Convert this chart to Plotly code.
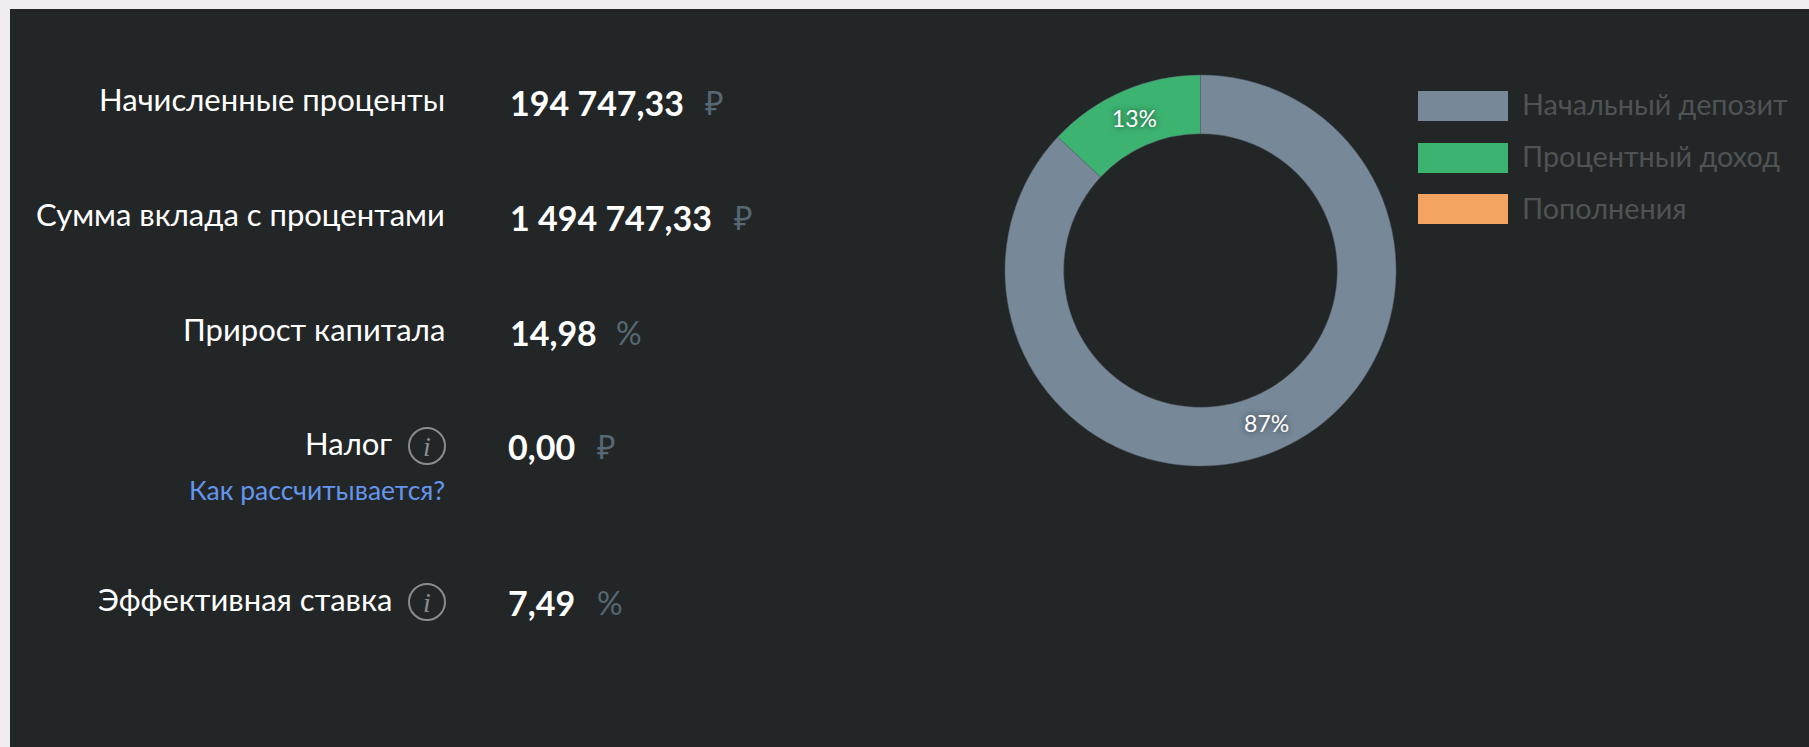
import plotly.graph_objects as go

# ---- data ----
categories = ["Начальный депозит", "Процентный доход", "Пополнения"]
amounts = [1300000.00, 194747.33, 0.00]
slice_colors = ["#778899", "#3CB371", "#F4A460"]

row_labels = ["Начисленные проценты", "Сумма вклада с процентами", "Прирост капитала", "Налог", "Эффективная ставка"]
row_values = ["194 747,33", "1 494 747,33", "14,98", "0,00", "7,49"]
row_units = ["₽", "₽", "%", "₽", "%"]
tax_link = "Как рассчитывается?"

# ---- layout constants (pixels) ----
W, H = 1809, 747
PANEL = "#232627"
PAGE = "#F0ECF2"
FONT = "Lato, 'Noto Sans', sans-serif"
label_right = [447, 447, 447, 394, 394]
label_y = [99, 214, 329, 443, 599]
value_left = [508, 508, 508, 506, 506]
value_y = [102, 217, 332, 446, 602]
unit_left = [703, 732, 614, 595, 595]
icon_rows = [3, 4]
icon_x = 427
icon_r = 18
legend_x0, legend_x1 = 1418, 1508
legend_y = [106, 158, 209]
legend_h = 30
legend_text_x = 1520
donut = dict(left=1005, right=1396, top=75, bottom=466)


def px(x):
    return x / W


def py(y):
    return 1 - y / H


def note(x, y, text, size, color, anchor="left", family=FONT):
    return dict(x=px(x), y=py(y), xref="paper", yref="paper", text=text, showarrow=False,
                xanchor=anchor, yanchor="middle", align=anchor,
                font=dict(size=size, color=color, family=family))


annotations = []
shapes = [dict(type="rect", xref="paper", yref="paper", x0=px(10), x1=1, y0=0, y1=py(9),
               fillcolor=PANEL, line=dict(width=0), layer="below")]

for i, label in enumerate(row_labels):
    annotations.append(note(label_right[i], label_y[i], label, 31, "#FFFFFF", "right"))
    annotations.append(note(value_left[i], value_y[i], f"<b>{row_values[i]}</b>", 34, "#FFFFFF"))
    annotations.append(note(unit_left[i], value_y[i], row_units[i], 32, "#566873"))

annotations.append(note(447, 490, tax_link, 26.5, "#6495ED", "right"))

for r in icon_rows:
    y = label_y[r] + 3
    shapes.append(dict(type="circle", xref="paper", yref="paper",
                       x0=px(icon_x - icon_r), x1=px(icon_x + icon_r),
                       y0=py(y + icon_r), y1=py(y - icon_r),
                       line=dict(color="#8A8D8E", width=2), fillcolor="rgba(0,0,0,0)"))
    annotations.append(note(icon_x, y, "<i>i</i>", 28, "#8A8D8E", "center", "'Liberation Serif', serif"))

for i, cat in enumerate(categories):
    shapes.append(dict(type="rect", xref="paper", yref="paper",
                       x0=px(legend_x0), x1=px(legend_x1),
                       y0=py(legend_y[i] + legend_h / 2), y1=py(legend_y[i] - legend_h / 2),
                       fillcolor=slice_colors[i], line=dict(width=0)))
    annotations.append(note(legend_text_x, legend_y[i] - 1.5, cat, 28.8, "#505355"))

fig = go.Figure(go.Pie(
    labels=categories,
    values=amounts,
    hole=0.7,
    sort=False,
    direction="clockwise",
    rotation=0,
    marker=dict(colors=slice_colors, line=dict(color="#5A6670", width=0.5)),
    textinfo="percent",
    texttemplate="%{percent:.0%}",
    textposition="inside",
    insidetextorientation="horizontal",
    insidetextfont=dict(size=23, color="#FFFFFF", family=FONT, shadow="0px 0px 6px rgba(0,0,0,0.6)"),
    showlegend=False,
    domain=dict(x=[px(donut["left"]), px(donut["right"])],
                y=[py(donut["bottom"]), py(donut["top"])]),
))

fig.update_layout(
    width=W, height=H, autosize=False,
    margin=dict(l=0, r=0, t=0, b=0),
    paper_bgcolor=PAGE, plot_bgcolor=PANEL,
    shapes=shapes, annotations=annotations,
    font=dict(family=FONT),
)

fig.write_html("out.html", config={"displayModeBar": False},
               post_script="document.body.style.margin='0';document.body.style.overflow='hidden';")
